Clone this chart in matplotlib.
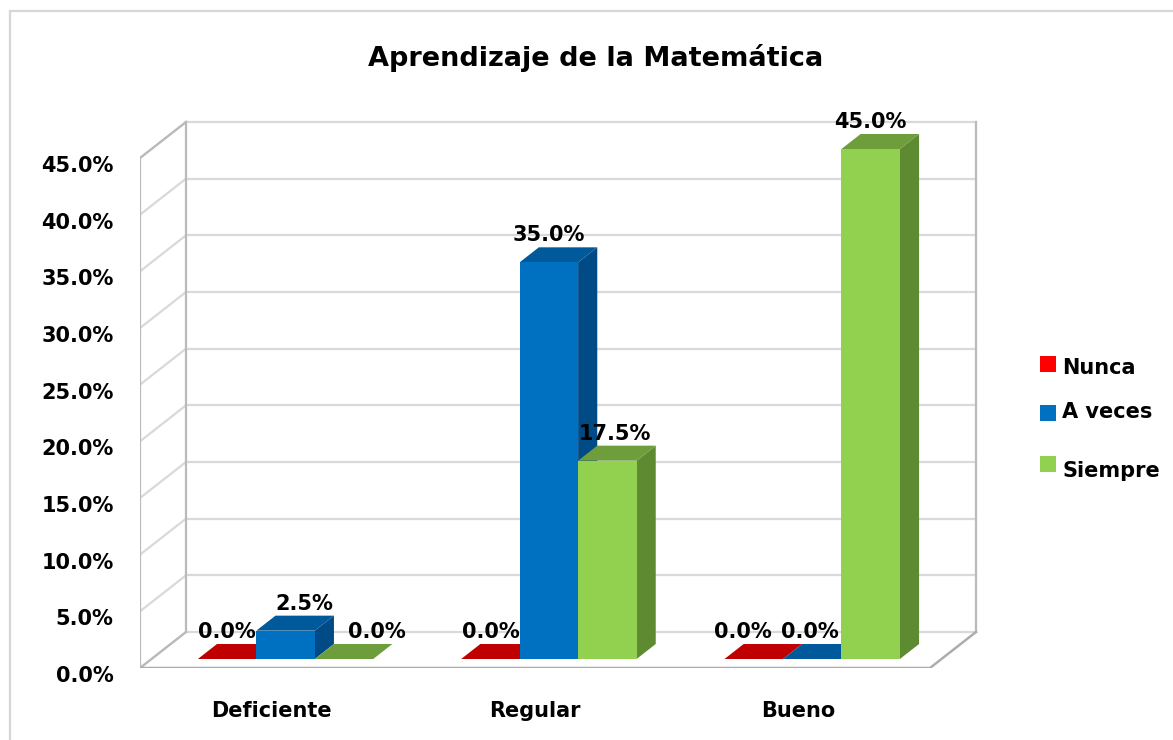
import matplotlib.pyplot as plt
from matplotlib.patches import Polygon, Rectangle
from matplotlib.transforms import ScaledTranslation

# data
categories = ['Deficiente', 'Regular', 'Bueno']
series_names = ['Nunca', 'A veces', 'Siempre']
nunca = [0.0, 0.0, 0.0]
a_veces = [2.5, 35.0, 0.0]
siempre = [0.0, 17.5, 45.0]
yticks = [0, 5, 10, 15, 20, 25, 30, 35, 40, 45]

series = [nunca, a_veces, siempre]
# front, top, side shades
colors = [('#FF0000', '#C00000', '#A00000'),
          ('#0070C0', '#00599A', '#004B85'),
          ('#92D050', '#6E9E3C', '#5E8A32')]
# small horizontal nudges (px) of value labels, like Excel does to avoid overlap
label_nudge = [[0, 19, 33], [0, 0, 8], [-11, -2, 0]]

W, H = 1173, 740
fig = plt.figure(figsize=(W / 100, H / 100), dpi=100)

# front plane of the 3d box: x 140..930 px, y 668 (0%) .. 158 (45%)
px_cat = 263.33
px_pct = 11.333
ax = fig.add_axes([140 / W, (H - 668) / H, (978 - 140) / W, (668 - 119) / H])
ax.set_xlim(-0.5, -0.5 + (978 - 140) / px_cat)
ax.set_ylim(0, (668 - 119) / px_pct)

DX = 46 / px_cat   # depth of the box in data units
DY = 36 / px_pct
x0, x1 = -0.5, 2.5
top = yticks[-1]


def P(x, y, z):
    return (x + z * DX, y + z * DY)


grid_c = '#D9D9D9'
edge_c = '#BABABA'
# back wall and left wall gridlines
for t in yticks:
    ax.plot([x0 + DX, x1 + DX], [t + DY, t + DY], color=grid_c, lw=1.6, zorder=1)
    ax.plot([x0, x0 + DX], [t, t + DY], color=grid_c, lw=1.6, zorder=1)
ax.plot([x0 + DX, x0 + DX], [DY, top + DY], color=edge_c, lw=1.6, zorder=1)
ax.plot([x1 + DX, x1 + DX], [DY, top + DY], color=edge_c, lw=1.6, zorder=1)
ax.plot([x0, x0 + DX], [top, top + DY], color=edge_c, lw=1.6, zorder=1)
ax.plot([x0, x0 + DX], [0, DY], color=edge_c, lw=1.6, zorder=1)
ax.plot([x0, x0], [0, top], color=edge_c, lw=1.6, zorder=1)
# floor
ax.plot([x0, x1, x1 + DX], [0, 0, DY], color='#ADADAD', lw=1.8, zorder=1)

bw = 0.222
Z0, Z1 = 0.25, 0.667
z = 2
for i in range(len(categories)):
    for j, vals in enumerate(series):
        v = vals[i]
        xl = i + (j - 1) * bw - bw / 2 + 0.009
        xr = xl + bw
        fc, tc, sc = colors[j]
        if v > 0:
            ax.add_patch(Polygon([P(xr, 0, Z0), P(xr, v, Z0), P(xr, v, Z1), P(xr, 0, Z1)],
                                 closed=True, fc=sc, ec='none', zorder=z))
        ax.add_patch(Polygon([P(xl, v, Z0), P(xr, v, Z0), P(xr, v, Z1), P(xl, v, Z1)],
                             closed=True, fc=tc, ec='none', zorder=z))
        if v > 0:
            ax.bar(xl + Z0 * DX, v, width=bw, bottom=Z0 * DY, align='edge',
                   color=fc, edgecolor='none', zorder=z)
        z += 1
        ax.annotate(f'{v:.1f}%', xy=(xl + Z0 * DX + bw / 2, v + Z1 * DY),
                    xytext=(label_nudge[i][j] * 0.72, 8.6), textcoords='offset points',
                    ha='center', va='center', fontsize=15, fontweight='bold', zorder=50)

for s in ax.spines.values():
    s.set_visible(False)
ax.set_yticks(yticks)
ax.set_yticklabels([f'{t:.1f}%' for t in yticks], fontsize=15, fontweight='bold')
ax.set_xticks(range(len(categories)))
ax.set_xticklabels(categories, fontsize=15, fontweight='bold')
ax.tick_params(axis='y', length=0, pad=19)
ax.tick_params(axis='x', length=0, pad=24)
for lab in ax.get_yticklabels():
    lab.set_transform(lab.get_transform() + ScaledTranslation(0, -6 / 100, fig.dpi_scale_trans))

fig.text(596 / W, 1 - 58 / H, 'Aprendizaje de la Matemática', ha='center', va='center',
         fontsize=19.5, fontweight='bold')

# legend
leg_y = [364, 413, 464]
leg_base = [374, 418, 477]
for j, name in enumerate(series_names):
    fig.patches.append(Rectangle((1040 / W, 1 - (leg_y[j] + 8) / H), 16 / W, 16 / H,
                                 transform=fig.transFigure, fc=colors[j][0], ec='none'))
    fig.text(1062 / W, 1 - leg_base[j] / H, name, ha='left', va='baseline',
             fontsize=15, fontweight='bold')

# chart area border
fig.patches.append(Rectangle((10 / W, -0.1), 1.2, 1.1 - 11 / H, transform=fig.transFigure,
                             fill=False, ec='#D6D6D6', lw=1.6))

fig.savefig('out.png', dpi=100)
